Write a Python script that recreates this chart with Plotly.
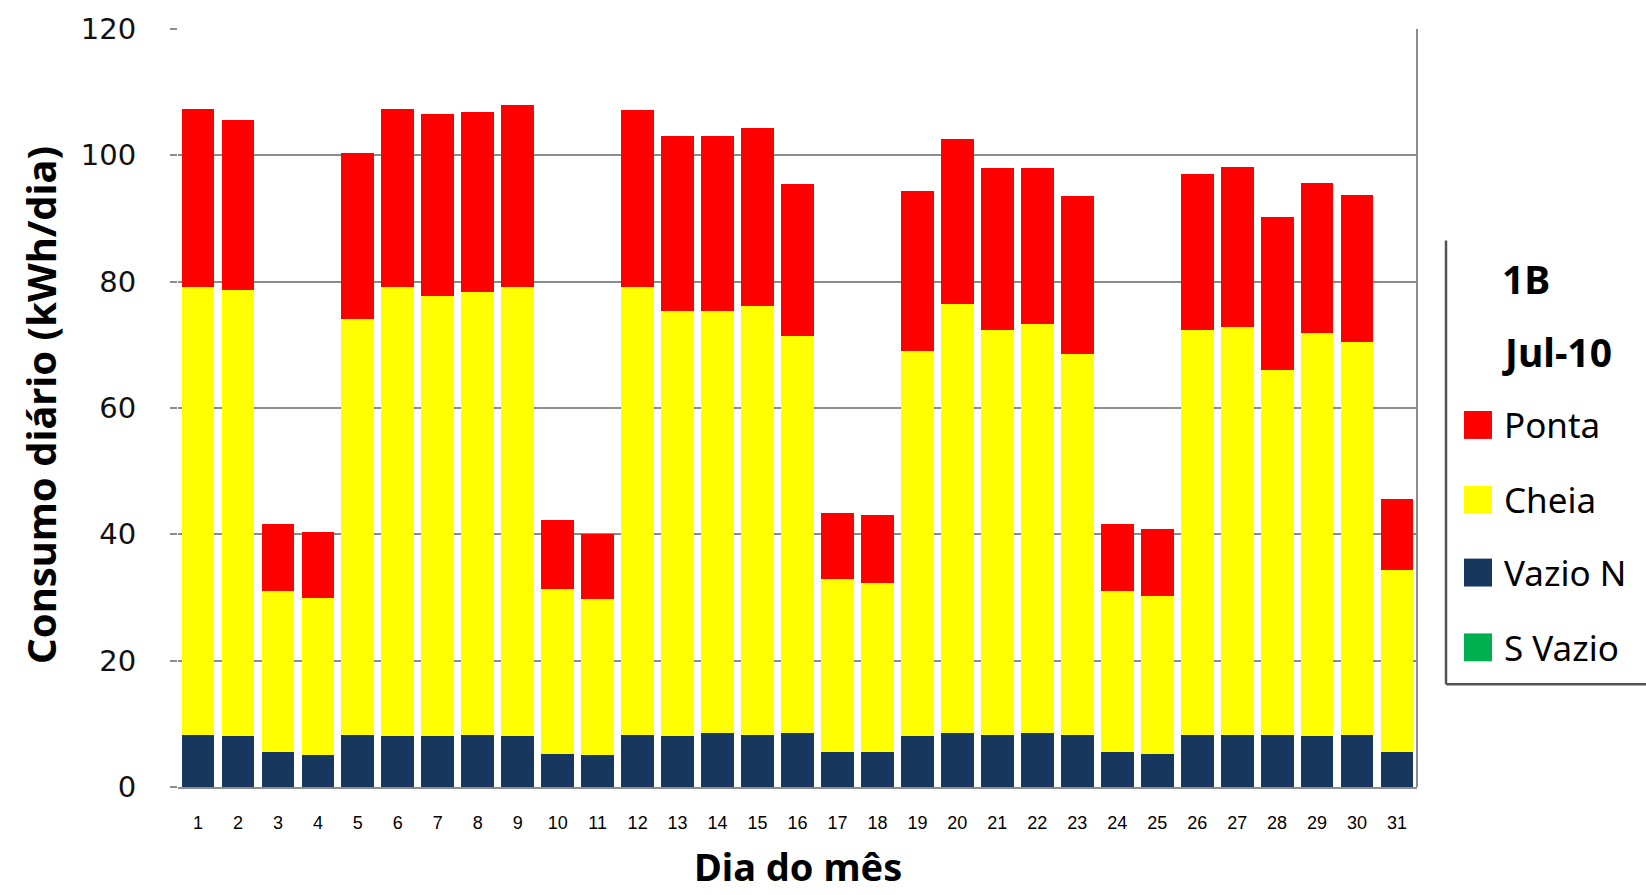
import plotly.graph_objects as go

days = [str(d) for d in range(1, 32)]
# stacked segment values (kWh/dia)
vazio_n = [8.3, 8.0, 5.5, 5.0, 8.3, 8.0, 8.0, 8.3, 8.0, 5.3, 5.0, 8.3, 8.0, 8.6, 8.3, 8.5,
           5.5, 5.6, 8.0, 8.6, 8.3, 8.6, 8.3, 5.5, 5.3, 8.3, 8.3, 8.3, 8.0, 8.3, 5.6]
cheia_top = [79.2, 78.7, 31.0, 30.0, 74.1, 79.1, 77.7, 78.4, 79.2, 31.3, 29.8, 79.2, 75.3, 75.3, 76.2, 71.4,
             33.0, 32.3, 69.1, 76.4, 72.3, 73.3, 68.5, 31.0, 30.3, 72.3, 72.9, 66.0, 71.9, 70.4, 34.3]
total = [107.4, 105.6, 41.6, 40.4, 100.3, 107.4, 106.6, 106.9, 107.9, 42.3, 40.1, 107.1, 103.1, 103.1, 104.4, 95.5,
         43.4, 43.1, 94.3, 102.6, 98.0, 98.0, 93.5, 41.6, 40.8, 97.1, 98.1, 90.3, 95.6, 93.8, 45.6]
cheia = [round(c - v, 1) for c, v in zip(cheia_top, vazio_n)]
ponta = [round(t - c, 1) for t, c in zip(total, cheia_top)]
s_vazio = [0.0] * 31

series = [
    ("S Vazio", s_vazio, "#00B050"),
    ("Vazio N", vazio_n, "#17375E"),
    ("Cheia", cheia, "#FFFF00"),
    ("Ponta", ponta, "#FF0000"),
]
legend_title = ["1B", "Jul-10"]
y_ticks = [0, 20, 40, 60, 80, 100, 120]

W, H = 1646, 895
L, R, T, B = 178, 1417, 27, 787


def px(x):
    return (x - L) / (R - L)


def py(y):
    return (B - y) / (B - T)


fig = go.Figure()
for name, vals, col in series:
    fig.add_trace(go.Bar(x=days, y=vals, name=name, marker=dict(color=col, line=dict(width=0)),
                         showlegend=False))

shapes = []
annotations = []
# right border line
shapes.append(dict(type="line", xref="paper", yref="paper", x0=1, x1=1, y0=0, y1=1,
                   line=dict(color="#8c8c8c", width=2)))
# legend frame (left and bottom)
shapes.append(dict(type="line", xref="paper", yref="paper", x0=px(1446), x1=px(1446), y0=py(239), y1=py(684),
                   line=dict(color="#555555", width=2.5)))
shapes.append(dict(type="line", xref="paper", yref="paper", x0=px(1446), x1=px(1650), y0=py(684), y1=py(684),
                   line=dict(color="#555555", width=2.5)))

for txt, yy in zip(legend_title, [277, 350]):
    annotations.append(dict(text="<b>%s</b>" % txt, xref="paper", yref="paper", x=px(1500), y=py(yy),
                            xanchor="left", yanchor="middle", showarrow=False,
                            font=dict(family="Noto Sans", size=39, color="#000")))

leg_y = [424, 499, 572, 647]
for (name, vals, col), yy in zip(reversed(series), leg_y):
    shapes.append(dict(type="rect", xref="paper", yref="paper", x0=px(1464), x1=px(1492),
                       y0=py(yy + 14), y1=py(yy - 14), fillcolor=col, line=dict(width=0)))
    annotations.append(dict(text=name, xref="paper", yref="paper", x=px(1502), y=py(yy),
                            xanchor="left", yanchor="middle", showarrow=False,
                            font=dict(family="Noto Sans", size=35, color="#000")))

annotations.append(dict(text="<b>Consumo diário (kWh/dia)</b>", xref="paper", yref="paper",
                        x=px(40), y=py(404), textangle=-90, showarrow=False,
                        xanchor="center", yanchor="middle",
                        font=dict(family="Noto Sans", size=40, color="#000")))
annotations.append(dict(text="<b>Dia do mês</b>", xref="paper", yref="paper",
                        x=px(798), y=py(866), showarrow=False, xanchor="center", yanchor="middle",
                        font=dict(family="Noto Sans", size=38, color="#000")))

fig.update_layout(
    width=W, height=H,
    margin=dict(l=L, r=W - R, t=T, b=H - B),
    barmode="stack", bargap=0.18,
    plot_bgcolor="white", paper_bgcolor="white",
    shapes=shapes, annotations=annotations,
    showlegend=False,
)
fig.update_xaxes(type="category", showgrid=False, showline=True, linecolor="#8c8c8c", linewidth=2,
                 tickfont=dict(family="Liberation Sans", size=18, color="#000"), ticks="",
                 ticklabelstandoff=18)
fig.update_yaxes(range=[0, 120], tickvals=y_ticks, showgrid=True, gridcolor="#8c8c8c", gridwidth=2,
                 zeroline=False, showline=False, ticks="outside", ticklen=7, tickcolor="#8c8c8c",
                 tickwidth=2, tickfont=dict(family="DejaVu Sans", size=29, color="#111"),
                 ticklabelstandoff=28)

fig.write_html("out.html")
